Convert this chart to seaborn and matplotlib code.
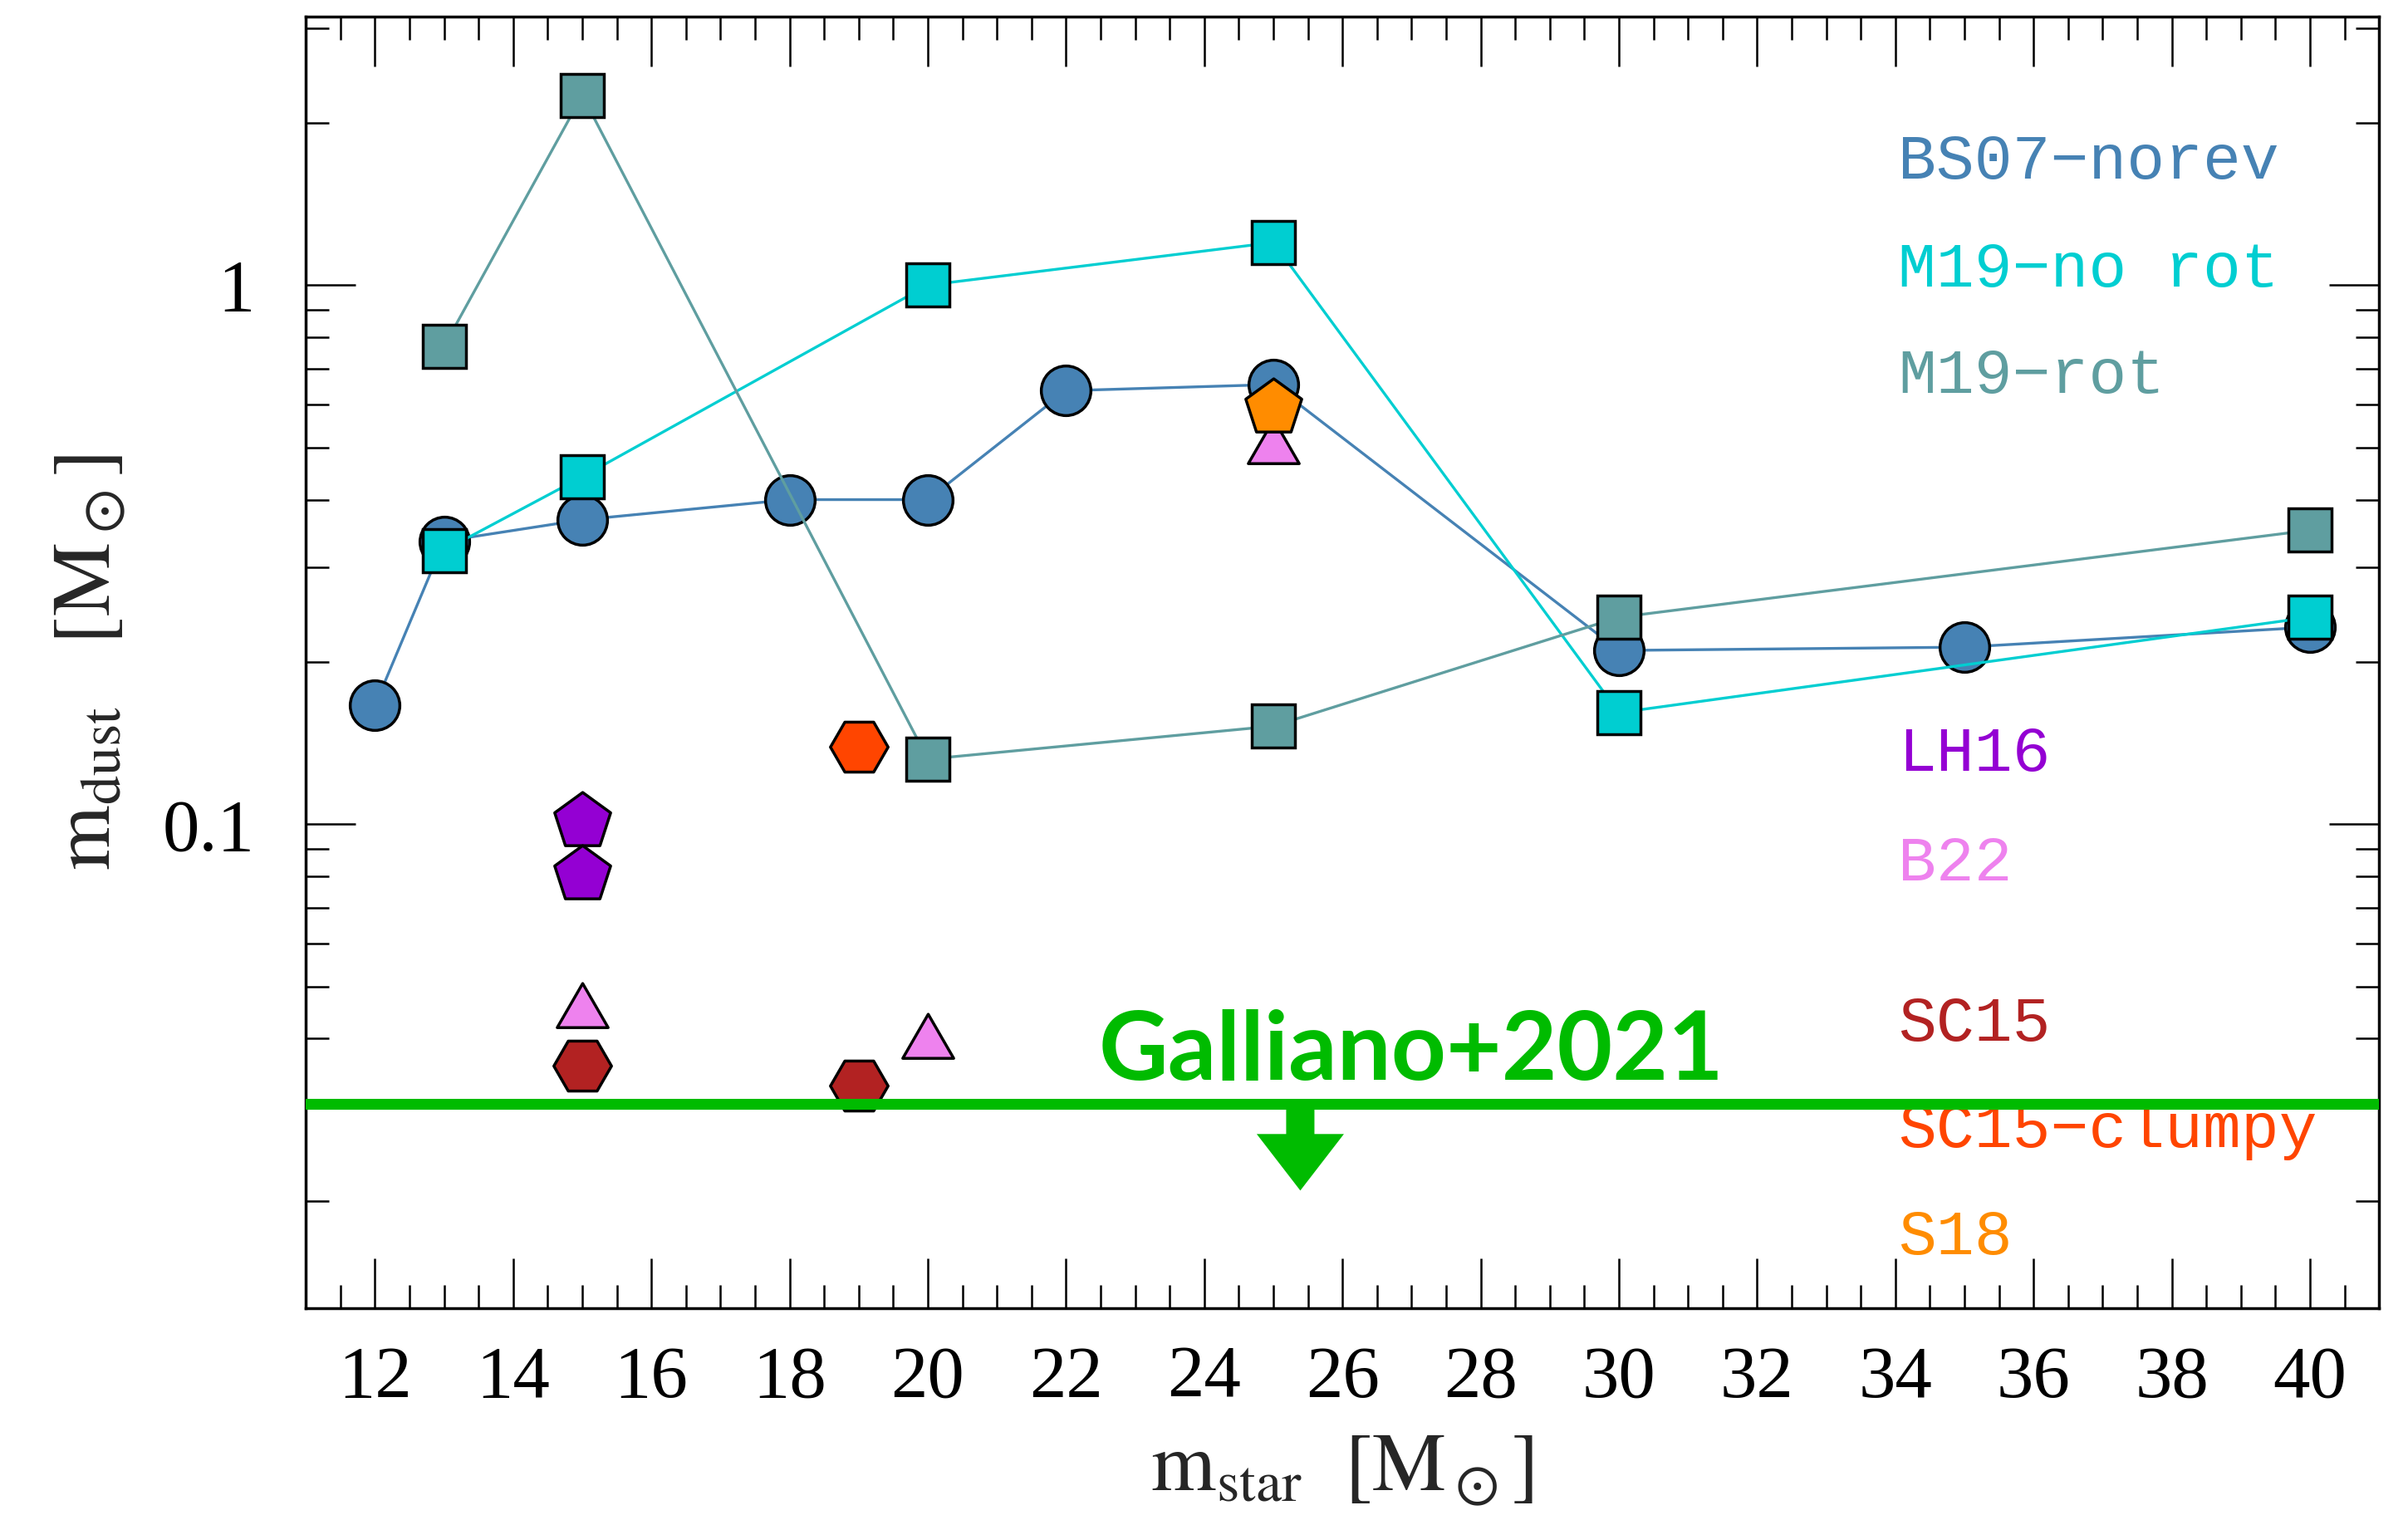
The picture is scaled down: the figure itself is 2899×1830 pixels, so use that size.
"""
Dust mass vs progenitor mass for several SN dust-formation models,
with the Galliano+2021 upper limit.  Writes out.png.
"""

import matplotlib
matplotlib.use("Agg")
import matplotlib.pyplot as plt
from matplotlib.ticker import FixedLocator, FixedFormatter, LogLocator, MultipleLocator, NullFormatter
import seaborn as sns

# ---- data -----------------------------------------------------------------
BS07_MSTAR = [12, 13, 15, 18, 20, 22, 25, 30, 35, 40]
BS07_MDUST = [0.166, 0.335, 0.367, 0.400, 0.400, 0.637, 0.654, 0.210, 0.213, 0.232]

M19_NOROT_MSTAR = [13, 15, 20, 25, 30, 40]
M19_NOROT_MDUST = [0.322, 0.441, 1.0, 1.2, 0.161, 0.242]

M19_ROT_MSTAR = [13, 15, 20, 25, 30, 40]
M19_ROT_MDUST = [0.77, 2.25, 0.132, 0.152, 0.242, 0.351]

LH16_MSTAR = [15, 15]
LH16_MDUST = [0.101, 0.0806]

B22_MSTAR = [15, 20, 25]
B22_MDUST = [0.0447, 0.0392, 0.497]

SC15_MSTAR = [15, 19]
SC15_MDUST = [0.0356, 0.0327]

SC15C_MSTAR = [19]
SC15C_MDUST = [0.139]

S18_MSTAR = [25]
S18_MDUST = [0.593]

GALLIANO_LIMIT = 0.0303
GALLIANO_ARROW_X = 25.39
GALLIANO_ARROW_TIP = 0.0209

# ---- colours ----------------------------------------------------------------
C_BS07 = "#4682b4"
C_NOROT = "#00ced1"
C_ROT = "#5f9ea0"
C_LH16 = "#9400d3"
C_B22 = "#ee82ee"
C_SC15 = "#b22222"
C_SC15C = "#ff4500"
C_S18 = "#ff8c00"
GREEN = "#00bb00"

LABELS = [
    ("BS07\u2212norev", C_BS07, 0.8746),
    ("M19\u2212no rot", C_NOROT, 0.791),
    ("M19\u2212rot", C_ROT, 0.7087),
    ("LH16", C_LH16, 0.4161),
    ("B22", C_B22, 0.3312),
    ("SC15", C_SC15, 0.2071),
    ("SC15\u2212clumpy", C_SC15C, 0.1248),
    ("S18", C_S18, 0.0418),
]

sns.set_style("white")
plt.rcParams["font.family"] = ["Liberation Serif", "DejaVu Serif"]
plt.rcParams["mathtext.fontset"] = "stix"

EW = 2.5   # marker edge width
LW = 2.4   # connecting line width

fig = plt.figure(figsize=(28.99, 18.30), dpi=100)
ax = fig.add_axes([0.127, 0.1393, 0.861, 0.8498])

# connected model sequences
for xs, ys, col, mk, ms in [
    (BS07_MSTAR, BS07_MDUST, C_BS07, "o", 43),
    (M19_NOROT_MSTAR, M19_NOROT_MDUST, C_NOROT, "s", 37),
    (M19_ROT_MSTAR, M19_ROT_MDUST, C_ROT, "s", 37),
]:
    sns.lineplot(x=xs, y=ys, ax=ax, color=col, linewidth=LW, marker=mk,
                 markersize=ms, markerfacecolor=col, markeredgecolor="black",
                 markeredgewidth=EW, zorder=2)

# single-point models
for xs, ys, col, mk, ms in [
    (LH16_MSTAR, LH16_MDUST, C_LH16, "p", 51),
    (B22_MSTAR, B22_MDUST, C_B22, (3, 0, 0), 51),
    (SC15_MSTAR, SC15_MDUST, C_SC15, "H", 50),
    (SC15C_MSTAR, SC15C_MDUST, C_SC15C, "H", 50),
    (S18_MSTAR, S18_MDUST, C_S18, "p", 51),
]:
    sns.scatterplot(x=xs, y=ys, ax=ax, color=col, marker=mk, s=ms ** 2,
                    edgecolor="black", linewidth=EW, zorder=3)

# Galliano+2021 upper limit
ax.axhline(GALLIANO_LIMIT, color=GREEN, lw=9.4, zorder=5)
ax.annotate("", xy=(GALLIANO_ARROW_X, GALLIANO_ARROW_TIP),
            xytext=(GALLIANO_ARROW_X, GALLIANO_LIMIT),
            arrowprops=dict(arrowstyle="simple,head_length=0.49,head_width=0.756,tail_width=0.245",
                            color=GREEN, lw=0, shrinkA=0, shrinkB=0, mutation_scale=100),
            zorder=5)
ax.text(27.0, 0.0335, "Galliano+2021", ha="center", va="baseline",
        fontsize=83, fontweight="bold", color=GREEN, family=["Lato", "DejaVu Sans"], zorder=6)

# model labels
for txt, col, yf in LABELS:
    ax.text(0.768, yf, txt, transform=ax.transAxes, color=col, fontsize=55,
            family=["Liberation Mono", "DejaVu Sans Mono"], va="baseline", ha="left")

# axes
ax.set_yscale("log")
ax.set_xlim(11, 41)
ax.set_ylim(0.01264, 3.15)

ax.xaxis.set_major_locator(MultipleLocator(2))
ax.xaxis.set_minor_locator(MultipleLocator(0.5))
ax.yaxis.set_major_locator(FixedLocator([0.1, 1]))
ax.yaxis.set_major_formatter(FixedFormatter(["0.1", "1"]))
ax.yaxis.set_minor_locator(LogLocator(base=10, subs=range(2, 10)))
ax.yaxis.set_minor_formatter(NullFormatter())

ax.tick_params(which="both", direction="in", top=True, right=True,
               bottom=True, left=True, colors="black")
ax.tick_params(which="major", length=43, width=1.8, labelsize=64)
ax.tick_params(which="minor", length=20, width=1.8)
ax.tick_params(axis="x", which="major", pad=32)
ax.tick_params(axis="y", which="major", pad=44)

for sp in ax.spines.values():
    sp.set_linewidth(2.5)
    sp.set_color("black")

ax.set_xlabel(r"$\mathrm{m_{star}}\ \ [\mathrm{M_\odot}]$", fontsize=72, labelpad=18)
ax.set_ylabel(r"$\mathrm{m_{dust}}\quad[\mathrm{M_\odot}]$", fontsize=72, labelpad=30)

fig.savefig("out.png", dpi=100)
